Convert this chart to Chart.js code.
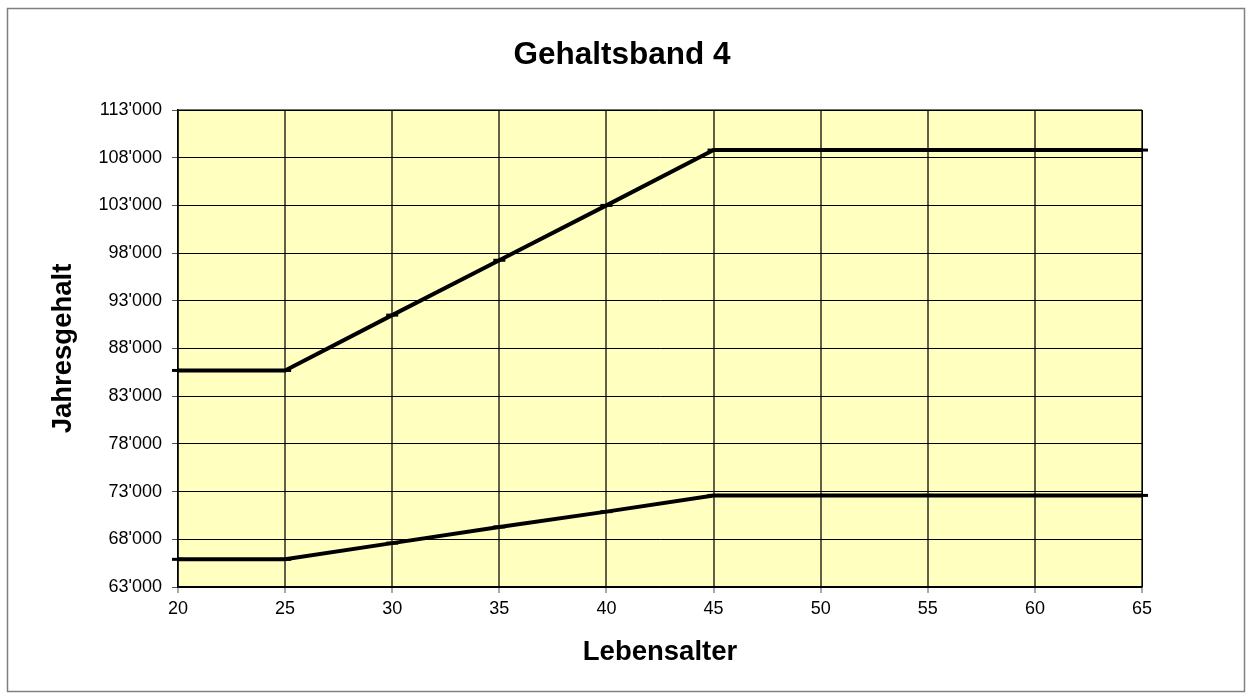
<!DOCTYPE html>
<html>
<head>
<meta charset="utf-8">
<title>Gehaltsband 4</title>
<script src="https://cdn.jsdelivr.net/npm/chart.js@4/dist/chart.umd.min.js"></script>
<style>
  html, body { margin: 0; padding: 0; background: #fff; }
  canvas { display: block; }
</style>
</head>
<body>
<canvas id="salaryChart" width="1252" height="700"></canvas>
<script>
const ages = [20, 25, 30, 35, 40, 45, 50, 55, 60, 65];
const upperSalary = [85700, 85700, 91500, 97250, 103000, 108800, 108800, 108800, 108800, 108800];
const lowerSalary = [65900, 65900, 67600, 69300, 70900, 72600, 72600, 72600, 72600, 72600];
const yMin = 63000;
const yMax = 113000;
const yStep = 5000;
const chartTitle = "Gehaltsband 4";

const font = "'Liberation Sans', Arial, sans-serif";

function formatSwiss(v) {
  return String(v).replace(/\B(?=(\d{3})+(?!\d))/g, "'");
}

function toPoints(values) {
  return ages.map((a, i) => ({ x: a, y: values[i] }));
}

// outer frame, yellow plot background, title centred on the whole page
const framePlugin = {
  id: "frame",
  beforeDraw(chart) {
    const { ctx, chartArea: a } = chart;
    ctx.save();
    ctx.strokeStyle = "#808080";
    ctx.lineWidth = 1.5;
    ctx.strokeRect(7.5, 8.5, 1237, 683);
    ctx.fillStyle = "#ffffc0";
    ctx.fillRect(a.left, a.top, a.right - a.left, a.bottom - a.top);
    ctx.strokeStyle = "#707070";
    ctx.lineWidth = 2;
    ctx.beginPath();
    ctx.moveTo(a.left, a.top);
    ctx.lineTo(a.right, a.top);
    ctx.stroke();

    ctx.fillStyle = "#000";
    ctx.font = "bold 31.5px " + font;
    ctx.textAlign = "center";
    ctx.textBaseline = "middle";
    ctx.fillText(chartTitle, 622, 55);
    ctx.restore();
  },
  beforeDatasetsDraw(chart) {
    const { ctx, chartArea: a } = chart;
    ctx.save();
    ctx.strokeStyle = "#000";
    ctx.lineWidth = 1;
    ctx.beginPath();
    ctx.moveTo(a.right + 0.5, a.top);
    ctx.lineTo(a.right + 0.5, a.bottom);
    ctx.stroke();
    ctx.restore();
  }
};

const lineStyle = {
  borderColor: "#000",
  backgroundColor: "#000",
  borderWidth: 4,
  tension: 0,
  pointStyle: "line",
  pointRadius: 6,
  pointBorderWidth: 3,
  pointHoverRadius: 6,
  clip: false
};

new Chart(document.getElementById("salaryChart").getContext("2d"), {
  type: "line",
  data: {
    datasets: [
      { label: "Maximum", data: toPoints(upperSalary), ...lineStyle },
      { label: "Minimum", data: toPoints(lowerSalary), ...lineStyle }
    ]
  },
  options: {
    responsive: false,
    animation: false,
    layout: { padding: { left: 0, right: 110, top: 110, bottom: 0 } },
    plugins: {
      legend: { display: false },
      tooltip: { enabled: false },
      title: { display: false }
    },
    scales: {
      x: {
        type: "linear",
        min: 20,
        max: 65,
        ticks: {
          stepSize: 5,
          color: "#000",
          padding: 5,
          maxRotation: 0,
          font: { family: font, size: 18 }
        },
        grid: {
          color: "#606048",
          lineWidth: 2,
          drawTicks: true,
          tickLength: 6,
          tickColor: "#555",
          tickWidth: 1
        },
        border: { display: true, color: "#000", width: 1.5 },
        title: {
          display: true,
          text: "Lebensalter",
          color: "#000",
          font: { family: font, size: 27.5, weight: "bold", lineHeight: 1.2 },
          padding: { top: 0, bottom: 31 }
        },
        afterFit(scale) { scale.height = 113; }
      },
      y: {
        min: yMin,
        max: yMax,
        ticks: {
          stepSize: yStep,
          color: "#000",
          padding: 10,
          font: { family: font, size: 18 },
          callback: (v) => formatSwiss(v)
        },
        grid: {
          color: "#000",
          lineWidth: 1,
          dash: [1, 1],
          borderDash: [1, 1],
          drawTicks: true,
          tickLength: 6,
          tickColor: "#555",
          tickWidth: 1,
          tickBorderDash: []
        },
        border: { display: true, color: "#000", width: 1.5 },
        title: {
          display: true,
          text: "Jahresgehalt",
          color: "#000",
          font: { family: font, size: 27.5, weight: "bold", lineHeight: 1.2 },
          padding: { top: 47, bottom: 0 }
        },
        afterFit(scale) { scale.width = 178; }
      }
    }
  },
  plugins: [framePlugin]
});
</script>
</body>
</html>
